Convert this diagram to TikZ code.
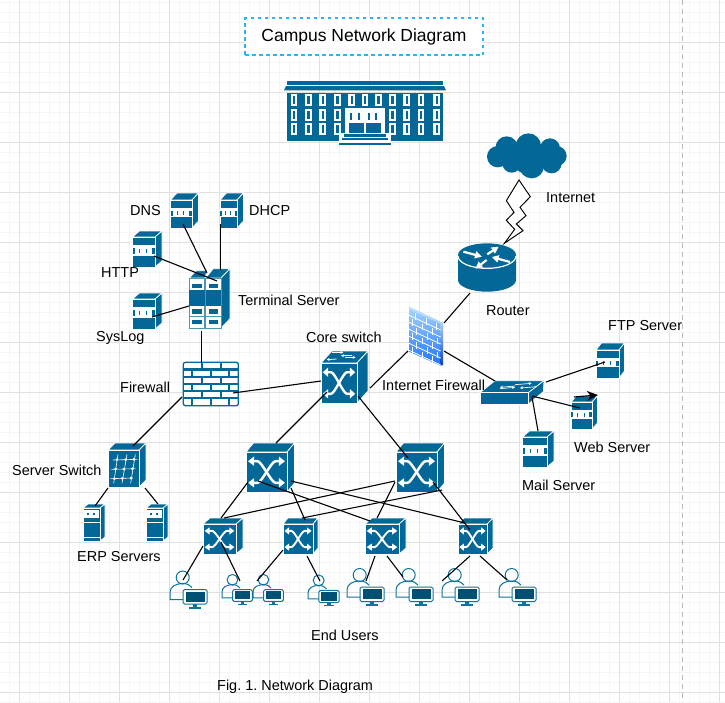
\documentclass[tikz,border=0pt]{standalone}
\usepackage{fontspec}
\setmainfont{Liberation Sans}
\usetikzlibrary{arrows.meta}
\definecolor{cisco}{HTML}{036897}
\definecolor{dkmon}{HTML}{005073}
\definecolor{usr}{HTML}{10739E}
\definecolor{gridmin}{HTML}{F5F5F5}
\definecolor{gridmaj}{HTML}{E0E0E0}
\definecolor{titleblue}{HTML}{29B6F6}
\definecolor{fwtop}{HTML}{A6D2FF}
\definecolor{fwbot}{HTML}{1A73FF}
\definecolor{fwdark}{HTML}{0A3FC0}
\tikzset{
  face/.style={fill=cisco,draw=white,line width=.7pt},
  link/.style={draw=black,line width=1.1pt},
  lab/.style={font=\fontsize{14.45}{17}\selectfont,inner sep=0pt,anchor=mid west,text=black},
  iconhit/.style={inner sep=0pt,outer sep=0pt,draw=none,fill=none},
}
% invisible named node covering an icon: name x1 y1 x2 y2
\newcommand\icon[5]{%
  \pgfmathsetmacro\tmpcx{(#2+#4)/2}\pgfmathsetmacro\tmpcy{(#3+#5)/2}%
  \expandafter\xdef\csname cx#1\endcsname{\tmpcx}%
  \expandafter\xdef\csname cy#1\endcsname{\tmpcy}%
  \node[iconhit,minimum width={(#4-#2)*1pt},minimum height={(#5-#3)*1pt}] (#1) at (\tmpcx,\tmpcy) {};%
}
% connector between points given inside two named icons
\newcommand\conn[6]{%
  \pgfmathsetmacro\ax{#2-\csname cx#1\endcsname}\pgfmathsetmacro\ay{#3-\csname cy#1\endcsname}%
  \pgfmathsetmacro\bx{#5-\csname cx#4\endcsname}\pgfmathsetmacro\by{#6-\csname cy#4\endcsname}%
  \draw[link] ([shift={(\ax,\ay)}]#1.center) -- ([shift={(\bx,\by)}]#4.center);%
}
\newcommand\cube[6]{%
  \path[face] (#1,#2) -- ++(#5,-#6) -- ++(#3,0) -- ++(-#5,#6) -- cycle;
  \path[face] (#1+#3,#2) -- ++(#5,-#6) -- ++(0,#4) -- ++(-#5,#6) -- cycle;
  \path[face] (#1,#2) rectangle ++(#3,#4);
}
% X switch glyph
\newcommand\swg[5]{%
  \begin{scope}[shift={(#1,#2)},xscale=#3,yscale=#4]
    \draw[white,line width=#5pt] (.17,.23) -- (.28,.23) .. controls (.38,.23) and (.62,.77) .. (.72,.77) -- (.83,.77);
    \draw[white,line width=#5pt] (.83,.23) -- (.72,.23) .. controls (.62,.23) and (.38,.77) .. (.28,.77) -- (.17,.77);
    \fill[white] (.05,.23) -- (.2,.11) -- (.2,.35) -- cycle;
    \fill[white] (.95,.23) -- (.8,.11) -- (.8,.35) -- cycle;
    \fill[white] (.05,.77) -- (.2,.65) -- (.2,.89) -- cycle;
    \fill[white] (.95,.77) -- (.8,.65) -- (.8,.89) -- cycle;
  \end{scope}%
}
% server box
\newcommand\srv[6]{%
  \cube{#1}{#2}{#3}{#4}{#5}{#6}
  \begin{scope}[shift={(#1,#2)},xscale=#3,yscale=#4]
    \fill[white] (0,.28) rectangle (1,.62);
    \fill[cisco] (0,.38) rectangle (.1,.56);
    \fill[cisco] (.3,.4) rectangle (.35,.54);
    \fill[cisco] (.6,.4) rectangle (.65,.54);
    \fill[cisco] (.86,.38) rectangle (1,.56);
  \end{scope}%
}
% tower server
\newcommand\tower[6]{%
  \cube{#1}{#2}{#3}{#4}{#5}{#6}
  \begin{scope}[shift={(#1,#2)},xscale=#3,yscale=#4]
    \fill[white] (.03,.06) rectangle (.97,.31);
    \fill[cisco] (.25,.15) rectangle (.33,.22);
    \fill[cisco] (.6,.15) rectangle (.68,.22);
    \fill[white] (0,.41) rectangle (1,.44);
    \fill[white] (0,.87) rectangle (1,.92);
  \end{scope}%
}
% user with monitor
\newcommand\puser[3]{%
  \begin{scope}[shift={(#1,#2)},scale=#3]
    \draw[usr,line width=1pt] (12.7,7) circle (6.5);
    \draw[usr,line width=1pt] (14,29) -- (0,29) -- (0,22) .. controls (0,16) and (6,13) .. (12.7,13) .. controls (17,13) and (20,14.5) .. (22,17);
    \draw[usr,line width=1pt,fill=white,rounded corners=1.5pt] (13,19) rectangle (37,33.5);
    \fill[dkmon] (15.5,21) rectangle (34.5,31);
    \fill[usr] (23,33.5) rectangle (27,36);
    \fill[usr] (19,36) rectangle (31,38);
  \end{scope}%
}
\begin{document}
\frenchspacing
\begin{tikzpicture}[x=1pt,y=-1pt]
\useasboundingbox (0,0) rectangle (725,702);
\fill[white] (0,0) rectangle (725,702);
% ---- grid
\foreach \g in {9,19,...,719} \draw[gridmin,line width=.7pt] (\g,0) -- (\g,702);
\foreach \g in {2,12,...,702} \draw[gridmin,line width=.7pt] (0,\g) -- (725,\g);
\foreach \g in {19,69,...,719} \draw[gridmaj,line width=.9pt] (\g,0) -- (\g,702);
\foreach \g in {42,92,...,692} \draw[gridmaj,line width=.9pt] (0,\g) -- (725,\g);
\draw[gray!55,line width=1pt,dash pattern=on 5pt off 4pt] (682.5,0) -- (682.5,702);
% ---- title
\node[draw=titleblue,line width=1.2pt,dash pattern=on 3.5pt off 3.5pt,fill=white,minimum width=238pt,minimum height=37pt,inner sep=0pt,font=\fontsize{17.5}{20}\selectfont] (title) at (364,36.5) {\raisebox{-1.2pt}{Campus Network Diagram}};
% ---- building
\icon{building}{284}{81}{446}{145}
\begin{scope}[shift={(230,0)},scale=1/3]
  \fill[cisco] (172,243) rectangle (638,255);
  \fill[cisco] (168,258) -- (642,258) -- (648,271) -- (162,271) -- cycle;
  \fill[cisco] (172,278) rectangle (638,422);
  \foreach \cxx in {192,235,278,322,365,405,445,487,530,573,620}
    \foreach \wy in {283,326,370} {
      \fill[white] (\cxx-10,\wy) rectangle (\cxx+10,\wy+36);
      \fill[cisco] (\cxx-3.5,\wy+6) rectangle (\cxx+3.5,\wy+30);
    }
  \fill[white] (346,323) rectangle (464,402);
  \fill[cisco] (356,333) rectangle (402,400);
  \fill[cisco] (408,333) rectangle (454,400);
  \fill[white] (356,333) rectangle (402,368);
  \fill[white] (408,333) rectangle (454,368);
  \foreach \dx in {364,386,416,438} \fill[cisco] (\dx-3,339) rectangle (\dx+3,361);
  \fill[white] (326,400) rectangle (484,436);
  \fill[cisco] (342,403) rectangle (468,410);
  \fill[cisco] (335,415) rectangle (475,421);
  \fill[cisco] (328,428) rectangle (482,434);
\end{scope}
% ---- cloud
\icon{cloud}{487}{133}{567}{178}
\begin{scope}[shift={(400,130)},scale=1/3]
  \fill[cisco] (320,52) circle (33);
  \fill[cisco] (385,48) circle (38);
  \fill[cisco] (450,55) circle (30);
  \fill[cisco] (470,78) circle (30);
  \fill[cisco] (293,80) circle (32);
  \fill[cisco] (335,100) circle (28);
  \fill[cisco] (395,108) circle (37);
  \fill[cisco] (455,100) circle (30);
  \fill[cisco] (385,80) circle (52);
  \draw[black,line width=.95pt,fill=white,line join=miter] (357,150) -- (391,200) -- (360,232) -- (378,257) -- (349,282) -- (369,302) -- (313,340) -- (344,298) -- (319,271) -- (342,247) -- (319,212) -- cycle;
\end{scope}
% ---- router
\icon{router}{458}{243}{516}{292}
\begin{scope}[shift={(400,130)},scale=1/3]
  \fill[cisco] (174,375) -- (174,450) arc[start angle=180,end angle=0,x radius=87,y radius=35] -- (348,375) -- cycle;
  \fill[cisco] (261,375) ellipse[x radius=87,y radius=35];
  \draw[white,line width=1.2pt] (174,378) arc[start angle=180,end angle=0,x radius=87,y radius=37];
  \draw[white,line width=2.2pt,-{Triangle[length=7pt,width=7pt]}] (190,365) -- (246,380);
  \draw[white,line width=2.2pt,-{Triangle[length=7pt,width=7pt]}] (262,373) -- (296,350);
  \draw[white,line width=2.2pt,-{Triangle[length=7pt,width=7pt]}] (330,396) -- (275,381);
  \draw[white,line width=2.2pt,-{Triangle[length=7pt,width=7pt]}] (260,390) -- (226,416);
\end{scope}
% ---- internet firewall
\icon{ifw}{408}{306}{445}{367}
\begin{scope}[shift={(400,300)},scale=1/3]
  \shade[top color=fwtop,bottom color=fwbot] (27,25) -- (122,70) -- (122,197) -- (27,155) -- cycle;
  \shade[top color=fwtop!70!white,bottom color=fwtop] (28,20) -- (128,68) -- (122,72) -- (28,28) -- cycle;
  \shade[top color=fwtop,bottom color=fwdark] (122,70) -- (129,67) -- (129,195) -- (122,197) -- cycle;
  \foreach \k in {0,1,2,3,4,5} {
    \draw[white,line width=.8pt] (27,{46+\k*21}) -- (122,{90+\k*21});
  }
  \foreach \k/\a/\b/\c in {0/45/78/108,1/38/68/98,2/50/82/112,3/38/68/98,4/50/82/112,5/38/68/98} {
    \draw[white,line width=.8pt] (\a,{31+\k*21+(\a-27)*.465}) -- ++(0,20);
    \draw[white,line width=.8pt] (\b,{31+\k*21+(\b-27)*.465}) -- ++(0,20);
    \draw[white,line width=.8pt] (\c,{31+\k*21+(\c-27)*.465}) -- ++(0,20);
  }
\end{scope}
% ---- flat switch
\icon{l2}{480}{381}{544}{404}
\begin{scope}[shift={(400,330)},scale=1/3]
  \path[face] (240,188) -- (285,152) -- (432,152) -- (385,188) -- cycle;
  \path[face] (385,188) -- (432,152) -- (430,185) -- (385,222) -- cycle;
  \path[face] (240,188) rectangle (385,222);
  \draw[white,line width=.7pt,-{Stealth[length=3pt,width=3pt]}] (300,176) -- (345,172);
  \draw[white,line width=.7pt,-{Stealth[length=3pt,width=3pt]}] (345,168) -- (300,172);
  \draw[white,line width=.7pt,-{Stealth[length=3pt,width=3pt]}] (345,164) -- (395,160);
  \draw[white,line width=.7pt,-{Stealth[length=3pt,width=3pt]}] (410,170) -- (360,174);
\end{scope}
% ---- servers
\icon{dns}{170}{193}{198}{228}\srv{170.5}{200}{21.5}{28}{6.5}{7}
\icon{dhcp}{220}{193}{243}{228}\srv{220}{200}{17}{28}{6.5}{7}
\icon{http}{132}{231}{162}{267}\srv{132.5}{237}{22.5}{30}{7}{6}
\icon{syslog}{132}{293}{162}{329}\srv{132.5}{299}{22.5}{30}{7}{6}
\icon{ftp}{596}{343}{625}{379}\srv{596}{350}{23}{28}{5.5}{7}
\icon{web}{571}{396}{597}{429}\srv{571}{402}{21}{27}{5.5}{6}
\icon{mail}{522}{431}{554}{467}\srv{522.5}{437}{24.5}{30}{7}{6}
% ---- terminal server
\icon{term}{189}{268}{231}{329}
\begin{scope}[shift={(185,262)},scale=1/3]
  \path[face] (13,48) -- (34,26) -- (66,26) -- (60,48) -- cycle;
  \path[face] (62,48) -- (85,20) -- (135,20) -- (108,48) -- cycle;
  \path[face] (108,48) -- (135,20) -- (135,170) -- (108,198) -- cycle;
  \foreach \dd in {0,49} {
    \begin{scope}[shift={(\dd,0)}]
      \draw[cisco!70,line width=.6pt,fill=white] (13,48) rectangle (59,198);
      \fill[cisco] (22,65) rectangle (50,78);
      \fill[cisco] (13,85) rectangle (59,133);
      \fill[cisco] (22,140) rectangle (50,155);
      \fill[cisco!70] (13,162) rectangle (59,165);
      \fill[cisco] (22,174) rectangle (50,187);
    \end{scope}
  }
\end{scope}
% ---- brick firewall
\icon{fw}{183}{362}{238}{406}
\begin{scope}[shift={(90,180)},scale=1/3]
  \draw[cisco,line width=1.3pt,fill=white,rounded corners=2pt] (280,547) rectangle (445,677);
  \foreach \h in {568.5,590,612,633.5,655} \draw[cisco,line width=2.1pt] (280,\h) -- (445,\h);
  \foreach \v/\t/\bb in {335/547/568.5,392/547/568.5,
    305/568.5/590,362/568.5/590,418/568.5/590,
    335/590/612,392/590/612,
    305/612/633.5,362/612/633.5,418/612/633.5,
    335/633.5/655,392/633.5/655,
    305/655/677,362/655/677,418/655/677}
    \draw[cisco,line width=2.1pt] (\v,\t) -- (\v,\bb);
\end{scope}
% ---- switches
\icon{core}{321}{351}{368}{403}\cube{321}{363}{36}{40}{11}{12}\swg{321}{363}{36}{40}{2.4}
\begin{scope}[shift={(315,345)},scale=1/3]
  \draw[white,line width=.8pt,-{Stealth[length=3pt,width=3pt]}] (50,22) -- (85,22);
  \draw[white,line width=.8pt,-{Stealth[length=3pt,width=3pt]}] (112,32) -- (78,32);
  \draw[white,line width=.8pt,-{Stealth[length=3pt,width=3pt]}] (90,37) -- (122,37);
  \draw[white,line width=.8pt,-{Stealth[length=3pt,width=3pt]}] (65,42) -- (35,44);
\end{scope}
\icon{dista}{246}{443}{294}{492}\cube{246}{452}{41}{40}{7.5}{9}\swg{246}{452}{41}{40}{2.5}
\icon{distb}{396}{443}{445}{492}\cube{396}{452}{41}{40}{7.5}{9}\swg{396}{452}{41}{40}{2.5}
\icon{swa}{203}{518}{243}{554}\cube{203}{524}{33}{30}{7}{6}\swg{203}{524}{33}{30}{1.9}
\icon{swb}{283}{518}{318}{554}\cube{283}{524}{30}{30}{5}{6}\swg{283}{524}{30}{30}{1.9}
\icon{swc}{365}{518}{406}{554}\cube{365}{524}{34}{30}{7}{6}\swg{365}{524}{34}{30}{1.9}
\icon{swd}{458}{518}{493}{554}\cube{458}{524}{29}{30}{6}{6}\swg{458}{524}{29}{30}{1.9}
% ---- server switch
\icon{srvsw}{108}{443}{146}{487}\cube{108}{450}{31}{37}{7}{7}
\begin{scope}[shift={(78,440)},scale=1/3]
  \foreach \hx/\hy/\hxx in {105/60/178,100/88/172,97/116/165}
    \draw[white,line width=.6pt] (\hx,\hy) -- (\hxx,\hy-2);
  \foreach \vx/\vxx in {120/107,147/132,172/158}
    \draw[white,line width=.6pt] (\vx,43) -- (\vxx,130);
  \foreach \dotx/\doty in {117/59,143/59,168/58,113/87,138/87,163/86,109/116,133/115,159/114}
    \fill[white] (\dotx,\doty) circle (4.5);
\end{scope}
% ---- ERP servers
\icon{erpa}{83}{504}{106}{541}\tower{83}{508}{17}{33}{5}{4}
\icon{erpb}{146}{504}{168}{541}\tower{146}{508}{17}{33}{5}{4}
% ---- users
\icon{ua}{170}{571}{207}{608}\puser{170}{570.5}{1}
\icon{ub}{222}{574}{252}{605}\puser{222}{574}{.82}
\icon{uc}{253}{574}{283}{605}\puser{253}{574}{.82}
\icon{ud}{308}{574}{339}{606}\puser{308}{574.5}{.84}
\icon{ue}{347}{568}{384}{606}\puser{347}{568}{1}
\icon{uf}{396}{568}{433}{606}\puser{396}{568}{1}
\icon{ug}{442}{568}{479}{606}\puser{442}{568}{1}
\icon{uh}{499}{568}{536}{606}\puser{499}{568}{1}
% ---- connectors
\conn{dns}{183}{224}{term}{207}{273}
\conn{dhcp}{220.5}{224}{term}{220.5}{270}
\conn{http}{154}{256}{term}{217}{281}
\conn{syslog}{152}{317}{term}{189}{306}
\conn{term}{201.5}{331}{fw}{201.5}{363}
\conn{fw}{233}{393}{core}{321}{381}
\conn{fw}{182}{397}{srvsw}{133}{446}
\conn{srvsw}{108}{488}{erpa}{95}{506}
\conn{srvsw}{145}{488}{erpb}{158}{504}
\conn{core}{327}{392}{dista}{276}{443}
\conn{core}{358}{396}{distb}{408}{458}
\conn{ifw}{408}{351}{core}{370}{388}
\conn{router}{470}{293}{ifw}{444}{323}
\conn{ifw}{444}{351}{l2}{495}{381}
\conn{l2}{546}{382}{ftp}{605}{362}
\conn{web}{580}{408}{l2}{532}{396}
\conn{mail}{538}{431}{l2}{532}{397}
\conn{dista}{248}{482}{swa}{221}{518}
\conn{dista}{291}{488}{swb}{305}{520}
\conn{dista}{258}{481}{swc}{370}{521}
\conn{dista}{291}{481}{swd}{465}{523}
\conn{distb}{395}{481}{swa}{224}{518}
\conn{distb}{442}{490}{swb}{302}{518}
\conn{distb}{395}{482}{swc}{377}{518}
\conn{distb}{433}{482}{swd}{470}{530}
\conn{swa}{203}{546}{ua}{183}{580}
\conn{swa}{221}{542}{ub}{240}{581}
\conn{swb}{283}{550}{uc}{257}{581}
\conn{swb}{307}{556}{ud}{320}{581}
\conn{swc}{375}{556}{ue}{366}{581}
\conn{swc}{387}{556}{uf}{403}{577}
\conn{swd}{470}{556}{ug}{442}{581}
\conn{swd}{480}{556}{uh}{507}{580}
% web server stray arrow
\coordinate (webtail) at (574,397);
\coordinate (webtip) at (598,395);
\draw[draw=black,line width=1.15pt,-{Stealth[length=11pt,width=10pt]}] (webtail) -- (webtip);
% ---- labels
\node[lab] (lbldns) at (130,212.5) {DNS};
\node[lab] (lbldhcp) at (249,212.5) {DHCP};
\node[lab] (lblhttp) at (101,274.5) {HTTP};
\node[lab] (lblterm) at (238,302.5) {Terminal Server};
\node[lab] (lblsys) at (96,338.5) {SysLog};
\node[lab] (lblfw) at (120,389.5) {Firewall};
\node[lab] (lblcore) at (306,339.5) {Core switch};
\node[lab] (lblifw) at (382,387.5) {Internet Firewall};
\node[lab] (lblnet) at (546,199.5) {Internet};
\node[lab] (lblrouter) at (486,312.5) {Router};
\node[lab] (lblftp) at (608,327.5) {FTP Server};
\node[lab] (lblweb) at (574,449.5) {Web Server};
\node[lab] (lblmail) at (522,487.5) {Mail Server};
\node[lab] (lblss) at (12,472.5) {Server Switch};
\node[lab] (lblerp) at (77,558.5) {ERP Servers};
\node[lab] (lblend) at (311,637.5) {End Users};
\node[lab] (lblfig) at (217,687.5) {Fig. 1. Network Diagram};
\end{tikzpicture}
\end{document}
